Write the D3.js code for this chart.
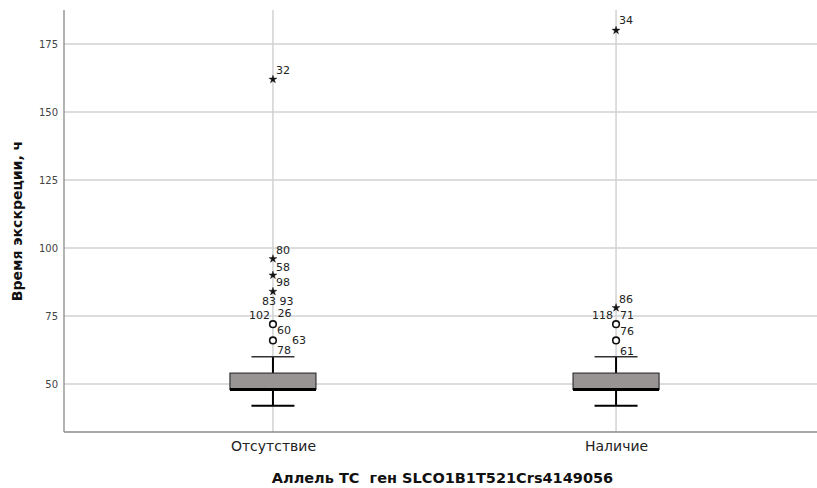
<!DOCTYPE html>
<html>
<head>
<meta charset="utf-8">
<script src="https://cdn.jsdelivr.net/npm/d3@7"></script>
<style>
  html, body { margin: 0; padding: 0; background: #fff; }
  svg { display: block; font-family: "DejaVu Sans", sans-serif; }
</style>
</head>
<body>
<svg id="chart" width="817" height="488"></svg>
<script>
// Groups and box-plot summary (hours)
const categories = ["Отсутствие", "Наличие"];
const whiskerLow  = [42, 42];
const q1          = [48, 48];
const median      = [48, 48];
const q3          = [54, 54];
const whiskerHigh = [60, 60];

// Outlying points: group index, value, kind ("mild" = circle, "extreme" = star)
const outlierGroup = [0, 0, 0, 0, 0, 0, 1, 1, 1, 1];
const outlierValue = [162, 96, 90, 84, 72, 66, 180, 78, 72, 66];
const outlierKind  = ["extreme", "extreme", "extreme", "extreme", "mild", "mild",
                      "extreme", "extreme", "mild", "mild"];

// Case numbers shown next to the outliers, with the outlier they belong to
const caseIds     = ["32", "80", "58", "98", "83", "93", "102", "26", "60", "63", "78",
                     "34", "86", "118", "71", "76", "61"];
const caseOutlier = [0, 1, 2, 3, 3, 3, 4, 4, 4, 5, 5, 6, 7, 8, 8, 8, 9];

const yTicks = [50, 75, 100, 125, 150, 175];

// Label placement relative to the marker (px): [dx, dy, anchor]
const caseLabelOffsets = [
  [3, -9.5, "start"], [3, -9, "start"], [3, -8.5, "start"], [3, -9, "start"],
  [3, 10, "end"], [6.5, 10, "start"],
  [-3, -9, "end"], [4.5, -11, "start"], [4, 6, "start"],
  [19, 0, "start"], [4, 10, "start"],
  [3, -10, "start"], [3, -9, "start"],
  [-3, -9, "end"], [4, -9, "start"], [4, 7, "start"], [4, 10.5, "start"]
];

const svg = d3.select("#chart");
const W = 817, H = 488;
const plot = { left: 64, right: 825, top: 10, bottom: 432 };

const x = d3.scalePoint().domain(categories).range([plot.left, plot.right]).padding(0.609);
const y = d3.scaleLinear().domain([32.35, 187.5]).range([plot.bottom, plot.top]);

const gridColor = "#d2d2d2";

// Horizontal gridlines
svg.append("g")
  .selectAll("line")
  .data(yTicks)
  .join("line")
  .attr("x1", plot.left).attr("x2", W)
  .attr("y1", d => y(d)).attr("y2", d => y(d))
  .attr("stroke", gridColor).attr("stroke-width", 1.5);

// Vertical gridlines at each category
svg.append("g")
  .selectAll("line")
  .data(categories)
  .join("line")
  .attr("x1", d => x(d)).attr("x2", d => x(d))
  .attr("y1", plot.top).attr("y2", plot.bottom)
  .attr("stroke", gridColor).attr("stroke-width", 1.5);

// Y axis
const yAxis = svg.append("g")
  .attr("transform", `translate(${plot.left},0)`)
  .call(d3.axisLeft(y).tickValues(yTicks).tickSize(0).tickPadding(6));
yAxis.select(".domain").remove();
yAxis.selectAll("text")
  .attr("font-family", "DejaVu Sans, sans-serif")
  .attr("font-size", 10)
  .attr("fill", "#444");
svg.append("line")
  .attr("x1", plot.left).attr("x2", plot.left)
  .attr("y1", plot.top).attr("y2", plot.bottom)
  .attr("stroke", "#8a8a8a").attr("stroke-width", 1.3);

// X axis
const xAxis = svg.append("g")
  .attr("transform", `translate(0,${plot.bottom})`)
  .call(d3.axisBottom(x).tickSize(0).tickPadding(9));
xAxis.select(".domain").remove();
xAxis.selectAll("text")
  .attr("font-family", "DejaVu Sans, sans-serif")
  .attr("font-size", 14)
  .attr("fill", "#222");
svg.append("line")
  .attr("x1", plot.left).attr("x2", W)
  .attr("y1", plot.bottom).attr("y2", plot.bottom)
  .attr("stroke", "#8a8a8a").attr("stroke-width", 1.3);

// Axis titles
svg.append("text")
  .attr("x", (plot.left + W) / 2 + 2).attr("y", 483)
  .attr("text-anchor", "middle")
  .style("white-space", "pre")
  .attr("font-size", 14.5).attr("font-weight", "bold").attr("fill", "#111")
  .text("Аллель ТС  ген SLCO1B1T521Crs4149056");

svg.append("text")
  .attr("transform", `translate(22,221) rotate(-90)`)
  .attr("text-anchor", "middle")
  .attr("font-size", 14).attr("font-weight", "bold").attr("fill", "#111")
  .text("Время экскреции, ч");

// Boxes
const boxHalf = 43, capHalf = 21.5;
const boxes = svg.append("g")
  .selectAll("g")
  .data(categories.map((c, i) => ({ c, i })))
  .join("g");

boxes.append("line")
  .attr("x1", d => x(d.c)).attr("x2", d => x(d.c))
  .attr("y1", d => y(whiskerLow[d.i])).attr("y2", d => y(q1[d.i]))
  .attr("stroke", "#000").attr("stroke-width", 2);
boxes.append("line")
  .attr("x1", d => x(d.c)).attr("x2", d => x(d.c))
  .attr("y1", d => y(q3[d.i])).attr("y2", d => y(whiskerHigh[d.i]))
  .attr("stroke", "#000").attr("stroke-width", 2);
boxes.append("line")
  .attr("x1", d => x(d.c) - capHalf).attr("x2", d => x(d.c) + capHalf)
  .attr("y1", d => y(whiskerLow[d.i])).attr("y2", d => y(whiskerLow[d.i]))
  .attr("stroke", "#000").attr("stroke-width", 2);
boxes.append("line")
  .attr("x1", d => x(d.c) - capHalf).attr("x2", d => x(d.c) + capHalf)
  .attr("y1", d => y(whiskerHigh[d.i])).attr("y2", d => y(whiskerHigh[d.i]))
  .attr("stroke", "#333").attr("stroke-width", 1.5);
boxes.append("rect")
  .attr("x", d => x(d.c) - boxHalf).attr("width", boxHalf * 2)
  .attr("y", d => y(q3[d.i])).attr("height", d => y(q1[d.i]) - y(q3[d.i]))
  .attr("fill", "#989494").attr("stroke", "#333").attr("stroke-width", 1.2);
boxes.append("line")
  .attr("x1", d => x(d.c) - boxHalf).attr("x2", d => x(d.c) + boxHalf)
  .attr("y1", d => y(median[d.i])).attr("y2", d => y(median[d.i]))
  .attr("stroke", "#000").attr("stroke-width", 3);

// Outlier markers
const outliers = outlierValue.map((v, i) => ({
  v, kind: outlierKind[i], cx: x(categories[outlierGroup[i]]), cy: y(v)
}));
const star = d3.symbol().type(d3.symbolStar).size(20);

svg.append("g")
  .selectAll("circle")
  .data(outliers.filter(d => d.kind === "mild"))
  .join("circle")
  .attr("cx", d => d.cx).attr("cy", d => d.cy).attr("r", 3.3)
  .attr("fill", "#fff").attr("stroke", "#111").attr("stroke-width", 1.6);

svg.append("g")
  .selectAll("path")
  .data(outliers.filter(d => d.kind === "extreme"))
  .join("path")
  .attr("transform", d => `translate(${d.cx},${d.cy})`)
  .attr("d", star)
  .attr("fill", "#111").attr("stroke", "#111").attr("stroke-width", 0.4);

// Case-number labels
svg.append("g")
  .selectAll("text")
  .data(caseIds.map((id, i) => ({ id, o: outliers[caseOutlier[i]], off: caseLabelOffsets[i] })))
  .join("text")
  .attr("x", d => d.o.cx + d.off[0])
  .attr("y", d => d.o.cy + d.off[1])
  .attr("dy", "0.35em")
  .attr("text-anchor", d => d.off[2])
  .attr("font-size", 11).attr("fill", "#222")
  .text(d => d.id);
</script>
</body>
</html>
